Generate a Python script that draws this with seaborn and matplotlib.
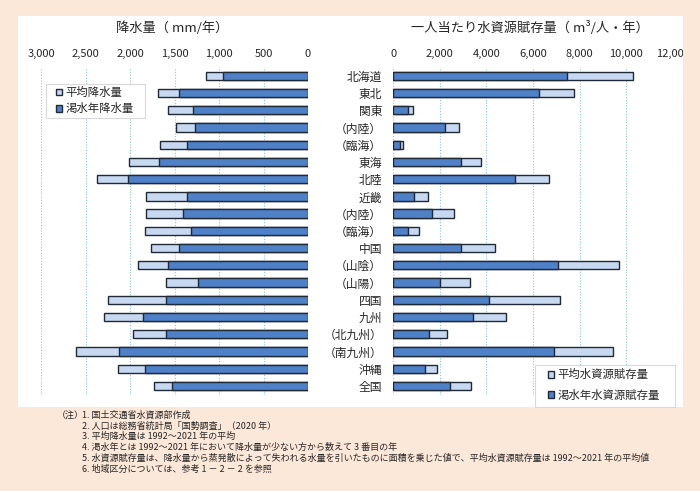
import numpy as np
import matplotlib
matplotlib.use("Agg")
import matplotlib.pyplot as plt
import seaborn as sns
from matplotlib.patches import Patch, Rectangle
from matplotlib.ticker import StrMethodFormatter
from matplotlib.transforms import Bbox

# Données
regions = ['北海道', '東北', '関東', '（内陸）', '（臨海）', '東海', '北陸', '近畿',
           '（内陸）', '（臨海）', '中国', '（山陰）', '（山陽）', '四国', '九州',
           '（北九州）', '（南九州）', '沖縄', '全国']
rain_avg = [1150, 1680, 1570, 1480, 1660, 2010, 2370, 1820, 1815, 1830,
            1760, 1910, 1600, 2245, 2290, 1965, 2610, 2130, 1730]
rain_dry = [960, 1450, 1290, 1270, 1360, 1670, 2020, 1360, 1400, 1310,
            1450, 1570, 1240, 1600, 1850, 1590, 2125, 1830, 1525]
water_avg = [10300, 7750, 830, 2840, 400, 3780, 6690, 1490, 2620, 1120,
             4380, 9680, 3280, 7170, 4830, 2320, 9420, 1860, 3350]
water_dry = [7470, 6270, 645, 2235, 290, 2920, 5240, 890, 1675, 620,
             2895, 7060, 2020, 4125, 3435, 1545, 6890, 1375, 2450]
rain_ticks = [3000, 2500, 2000, 1500, 1000, 500, 0]
water_ticks = [0, 2000, 4000, 6000, 8000, 10000, 12000]
notes = ['1. 国土交通省水資源部作成',
         '2. 人口は総務省統計局「国勢調査」（2020 年）',
         '3. 平均降水量は 1992～2021 年の平均',
         '4. 渇水年とは 1992～2021 年において降水量が少ない方から数えて 3 番目の年',
         '5. 水資源賦存量は、降水量から蒸発散によって失われる水量を引いたものに面積を乗じた値で、平均水資源賦存量は 1992～2021 年の平均値',
         '6. 地域区分については、参考 1 － 2 － 2 を参照']

pos = np.arange(len(regions))

# Style
sns.set_style("white")
plt.rcParams['font.family'] = ['Noto Sans CJK JP', 'DejaVu Sans']

W, H = 700, 491
peach = '#fce8d9'
light = '#c6d9f1'
blue = '#4f81c9'
edge = '#1f2a36'
grid_c = '#86c8e6'
frame_c = '#d9d9d9'

fig = plt.figure(figsize=(7, 4.91), dpi=100, facecolor=peach)


def fig_rect(x0, y0, x1, y1, **kw):
    # rectangle en pixels (origine en haut à gauche)
    r = Rectangle((x0 / W, 1 - y1 / H), (x1 - x0) / W, (y1 - y0) / H,
                  transform=fig.transFigure, **kw)
    fig.patches.append(r)
    return r


# panneau blanc
fig_rect(18, 16, 683, 407, facecolor='white', edgecolor='none', zorder=-10)

bottom = 1 - 394.6 / H
height = (394.6 - 67.1) / H
axL = fig.add_axes([41 / W, bottom, 267 / W, height])
axR = fig.add_axes([393.3 / W, bottom, 279.4 / W, height])

bar_kw = dict(orient='y', saturation=1, edgecolor=edge, linewidth=1,
              width=0.48, errorbar=None)

# Graphique gauche : précipitations
sns.barplot(x=rain_avg, y=pos, color=light, ax=axL, **bar_kw)
sns.barplot(x=rain_dry, y=pos, color=blue, ax=axL, **bar_kw)
axL.set_xlim(3000, 0)
axL.set_xticks(rain_ticks)
axL.set_yticks([])

# Graphique droit : ressources en eau
sns.barplot(x=water_avg, y=pos, color=light, ax=axR, **bar_kw)
sns.barplot(x=water_dry, y=pos, color=blue, ax=axR, **bar_kw)
axR.set_xlim(0, 12000)
axR.set_xticks(water_ticks)
axR.set_yticks(pos)
axR.set_yticklabels(regions, fontsize=8.5)

for ax in (axL, axR):
    ax.set_facecolor('none')
    ax.set_ylim(len(regions) - 0.5, -0.5)
    ax.xaxis.tick_top()
    ax.xaxis.set_major_formatter(StrMethodFormatter('{x:,.0f}'))
    ax.tick_params(axis='x', length=0, pad=6, labelsize=8)
    ax.tick_params(axis='y', length=0, pad=8)
    ax.set_xlabel('')
    ax.set_ylabel('')
    for s in ax.spines.values():
        s.set_visible(False)
    ax.xaxis.grid(True, linestyle=(0, (1, 1.5)), color=grid_c, linewidth=0.8)
    ax.set_axisbelow(True)

# le "12,000" est coupé par le bord du panneau
clip = Bbox.from_extents(0, 0, 683, H)
for t in axR.get_xticklabels():
    t.set_clip_box(clip)
    t.set_clip_on(True)

# Titres
fig.text(172 / W, 1 - 28 / H, '降水量（ mm/年）', ha='center', va='center', fontsize=9.5)
fig.text(530 / W, 1 - 28 / H, '一人当たり水資源賦存量（ m³/人・年）', ha='center', va='center', fontsize=9.5)

# Légendes (cadres dessinés à part)
leg_kw = dict(loc='upper left', bbox_transform=fig.transFigure, fontsize=8.2,
              frameon=False, borderaxespad=0, borderpad=0,
              handlelength=0.55, handleheight=0.55, handletextpad=0.3)

fig_rect(46, 84, 145, 118, facecolor='white', edgecolor=frame_c, linewidth=0.8, zorder=4)
fig.legend(handles=[Patch(facecolor=light, edgecolor=edge, label='平均降水量'),
                    Patch(facecolor=blue, edgecolor=edge, label='渇水年降水量')],
           bbox_to_anchor=(56 / W, 1 - 87 / H), labelspacing=0.45, **leg_kw)

fig_rect(535, 365, 675, 407, facecolor='white', edgecolor=frame_c, linewidth=0.8, zorder=4)
fig.legend(handles=[Patch(facecolor=light, edgecolor=edge, label='平均水資源賦存量'),
                    Patch(facecolor=blue, edgecolor=edge, label='渇水年水資源賦存量')],
           bbox_to_anchor=(548 / W, 1 - 369 / H), labelspacing=0.85, **leg_kw)

# Notes
fig.text(56.7 / W, 1 - 415 / H, '（注）', ha='left', va='center', fontsize=6.5)
for i, line in enumerate(notes):
    fig.text(81.7 / W, 1 - (415 + i * 10.9) / H, line, ha='left', va='center', fontsize=6.5)

fig.savefig('out.png', dpi=100, facecolor=peach)
